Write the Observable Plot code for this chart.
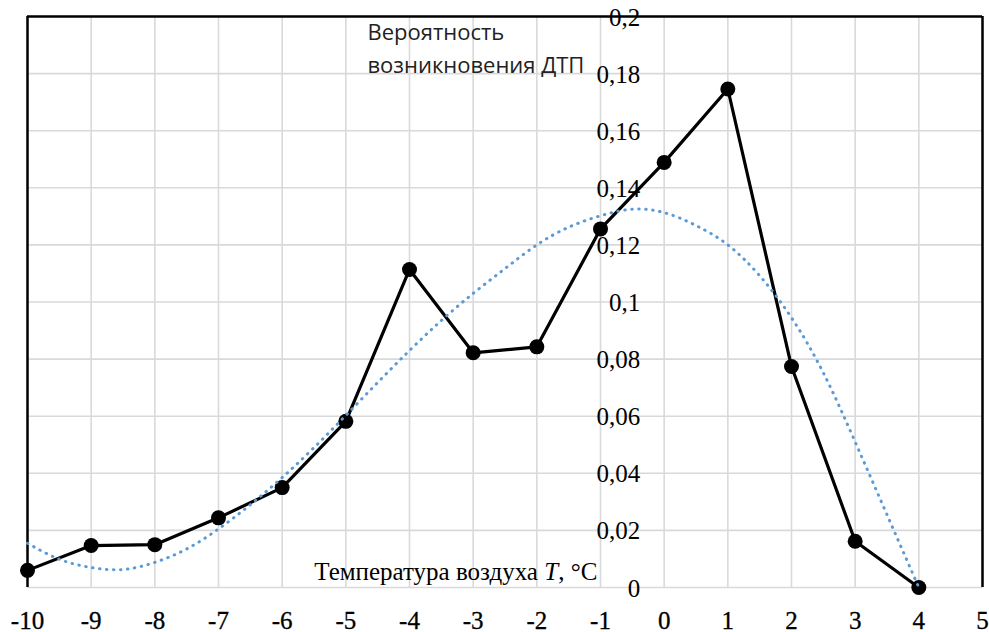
<!DOCTYPE html>
<html>
<head>
<meta charset="utf-8">
<script src="https://cdn.jsdelivr.net/npm/d3@7"></script>
<script src="https://cdn.jsdelivr.net/npm/@observablehq/plot@0.6"></script>
<style>
  html, body { margin: 0; padding: 0; background: #fff; }
</style>
</head>
<body>
<div id="chart"></div>
<script>
// Observed points
const temps = [-10, -9, -8, -7, -6, -5, -4, -3, -2, -1, 0, 1, 2, 3, 4];
const probs = [0.006, 0.0147, 0.015, 0.0244, 0.035, 0.0582, 0.1114, 0.0822, 0.0843, 0.1256, 0.1489, 0.1746, 0.0774, 0.0162, 0];

// Polynomial trend line (dotted)
const trendTemps = [-10, -9.5, -9, -8.5, -8, -7.5, -7, -6.5, -6, -5.5, -5, -4.5, -4, -3.5, -3, -2.5, -2, -1.5, -1, -0.5, 0, 0.5, 1, 1.5, 2, 2.5, 3, 3.5, 4];
const trendProbs = [0.0155, 0.0099, 0.0070, 0.0063, 0.0088, 0.0135, 0.0205, 0.0290, 0.0385, 0.0490, 0.0603, 0.0718, 0.0830, 0.0935, 0.1030, 0.1117, 0.1200, 0.1262, 0.1302, 0.1325, 0.1313, 0.1268, 0.1200, 0.1092, 0.0945, 0.0752, 0.0510, 0.0255, 0];

// Ticks
const xTicks = [-10, -9, -8, -7, -6, -5, -4, -3, -2, -1, 0, 1, 2, 3, 4, 5];
const xTickLabels = ["-10", "-9", "-8", "-7", "-6", "-5", "-4", "-3", "-2", "-1", "0", "1", "2", "3", "4", "5"];
const yTicks = [0, 0.02, 0.04, 0.06, 0.08, 0.1, 0.12, 0.14, 0.16, 0.18, 0.2];
const yTickLabels = ["0", "0,02", "0,04", "0,06", "0,08", "0,1", "0,12", "0,14", "0,16", "0,18", "0,2"];

// Texts
const yTitle = ["Вероятность\nвозникновения ДТП"];
const xTitle = ["Температура воздуха T, °C"];

const points = temps.map((t, i) => ({t, p: probs[i]}));
const trend = trendTemps.map((t, i) => ({t, p: trendProbs[i]}));

const serif = "'Liberation Serif', 'Times New Roman', serif";
const grid = {stroke: "#d9d9d9", strokeOpacity: 1, strokeWidth: 1.6};

const chart = Plot.plot({
  width: 989,
  height: 632,
  marginLeft: 27,
  marginRight: 7,
  marginTop: 16,
  marginBottom: 45,
  x: {domain: [-10, 5], axis: null},
  y: {domain: [0, 0.2], axis: null},
  style: {fontFamily: serif, fontSize: "25px", background: "white", color: "black", overflow: "visible"},
  marks: [
    Plot.gridX(xTicks, grid),
    Plot.gridY(yTicks, grid),
    Plot.ruleX([-10, 5], {stroke: "black", strokeWidth: 2.5}),
    Plot.ruleY([0.2], {stroke: "black", strokeWidth: 2.5}),
    Plot.text(xTicks, {x: d => d, frameAnchor: "bottom", lineAnchor: "middle", text: (d, i) => xTickLabels[i], dy: 33, fontSize: 25, fontFamily: serif, fill: "black", stroke: "black", strokeWidth: 0.3}),
    Plot.text(yTicks, {x: 0, y: d => d, text: (d, i) => yTickLabels[i], textAnchor: "end", lineAnchor: "middle", dx: -24, dy: 1, fontSize: 25, fontFamily: serif, fill: "black"}),
    Plot.line(points, {x: "t", y: "p", stroke: "black", strokeWidth: 3.2}),
    Plot.dot(points, {x: "t", y: "p", r: 7.5, fill: "black", stroke: "none"}),
    Plot.line(trend, {x: "t", y: "p", curve: "natural", stroke: "#5b9bd5", strokeWidth: 3, strokeDasharray: "0.5 6.5", strokeLinecap: "round"}),
    Plot.text(yTitle, {x: -4.66, y: 0.2, text: d => d, textAnchor: "start", lineAnchor: "top", dy: 0, lineHeight: 1.5, fontSize: 22, fontFamily: "'Open Sans', sans-serif", fill: "#222"}),
    Plot.text(xTitle, {x: -1.05, y: 0, text: d => d, textAnchor: "end", lineAnchor: "middle", dy: -16, fontSize: 25, fontFamily: serif, fill: "black"})
  ]
});

document.getElementById("chart").appendChild(chart);

// Italicise the "T" in the axis title
d3.select(chart).selectAll("text").each(function () {
  if (this.textContent === xTitle[0]) {
    const el = d3.select(this);
    el.text(null);
    el.append("tspan").text("Температура воздуха ");
    el.append("tspan").attr("font-style", "italic").text("T");
    el.append("tspan").text(", °C");
  }
});
</script>
</body>
</html>
